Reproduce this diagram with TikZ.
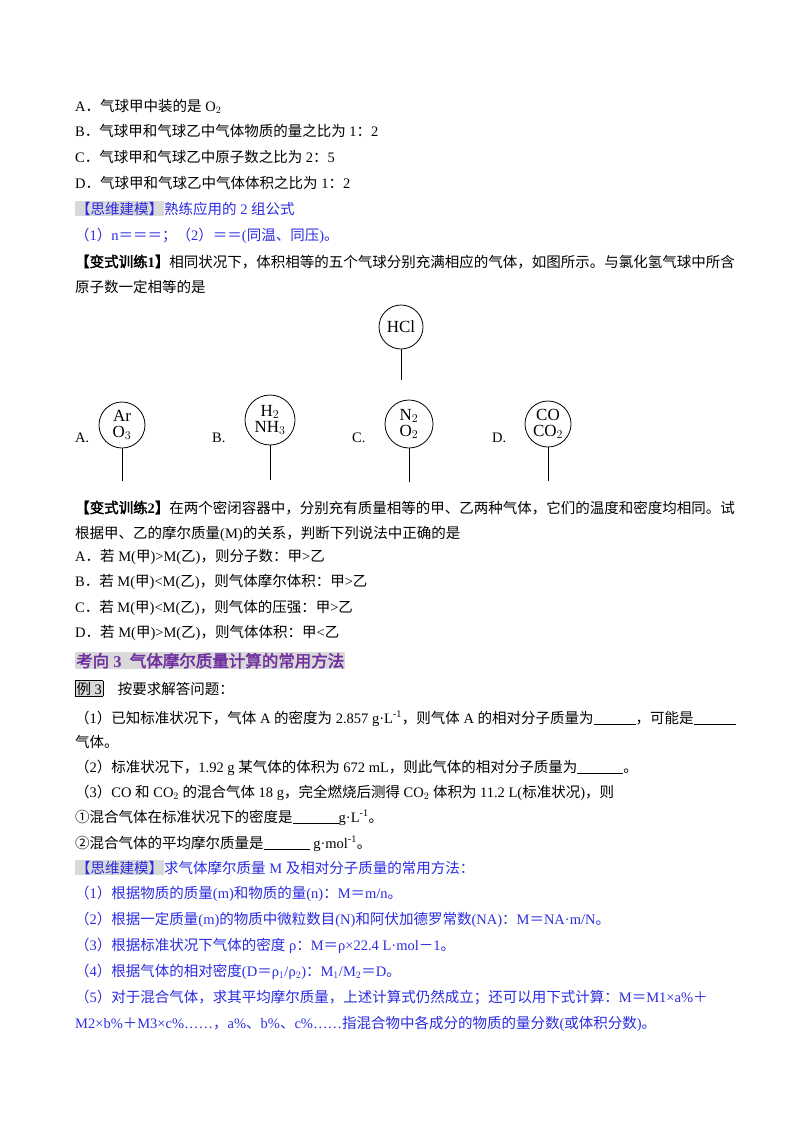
\documentclass[tikz,border=0pt]{standalone}
\usepackage{fontspec}
\setmainfont{Liberation Serif}
\newfontfamily\cj{Noto Sans CJK SC}[AutoFakeBold=2.5]
\XeTeXinterchartokenstate=1
\newXeTeXintercharclass\CJKc
\newcount\cc
\def\setcls#1#2{\cc=#1 \loop \XeTeXcharclass\cc=\CJKc \ifnum\cc<#2 \advance\cc 1 \repeat}
\setcls{"2460}{"24FF}
\setcls{"3000}{"303F}
\setcls{"4E00}{"9FFF}
\setcls{"FF00}{"FFEF}
\XeTeXinterchartoks 0 \CJKc = {\begingroup\cj}
\XeTeXinterchartoks 4095 \CJKc = {\begingroup\cj}
\XeTeXinterchartoks \CJKc 0 = {\endgroup}
\XeTeXinterchartoks \CJKc 4095 = {\endgroup}
\definecolor{bl}{HTML}{2B2BE0}
\definecolor{pu}{HTML}{7030A0}
\definecolor{gy}{HTML}{D9D9D9}
\newcommand{\gb}[1]{\begingroup\setlength{\fboxsep}{1pt}\colorbox{gy}{#1}\endgroup}
\newcommand{\blank}[1]{\underline{\hspace{#1}}}
\newcommand{\inv}{\textsuperscript{-1}}
\begin{document}
\begin{tikzpicture}[x=1pt,y=-1pt,
  t/.style={anchor=base west,inner sep=0pt,font=\fontsize{14.5}{16}\selectfont},
  b/.style={t,text=bl},
  ball/.style={circle,draw,line width=0.8pt,minimum size=#1,inner sep=0pt,align=center,font=\fontsize{17}{16}\selectfont},
  st/.style={line width=0.8pt}]
\path[use as bounding box] (0,0) rectangle (800,1132);
\node[t] (a1) at (75,111) {A．气球甲中装的是 O$_2$};
\node[t] (a2) at (75,136) {B．气球甲和气球乙中气体物质的量之比为 1：2};
\node[t] (a3) at (75,162) {C．气球甲和气球乙中原子数之比为 2：5};
\node[t] (a4) at (75,188) {D．气球甲和气球乙中气体体积之比为 1：2};
\node[b] (a5) at (75,214) {\gb{【思维建模】}熟练应用的 2 组公式};
\node[b] (a6) at (75,240) {（1）n＝＝＝；（2）＝＝(同温、同压)。};
\node[t] (a7) at (75,267) {\bfseries 【变式训练1】\mdseries 相同状况下，体积相等的五个气球分别充满相应的气体，如图所示。与氯化氢气球中所含};
\node[t] (a8) at (75,292) {原子数一定相等的是};
% balloons
\node[ball=44pt] (h) at (401,327) {HCl};
\coordinate (he) at (401,380);
\draw[st] (h) -- (he);
\node[t] (la) at (75,442) {A.};
\node[ball=46pt] (ba) at (122,425) {Ar\\O$_3$};
\coordinate (bae) at (122,481);
\draw[st] (ba) -- (bae);
\node[t] (lb) at (212,442) {B.};
\node[ball=50pt] (bb) at (270,420) {H$_2$\\NH$_3$};
\coordinate (bbe) at (270,480);
\draw[st] (bb) -- (bbe);
\node[t] (lc) at (352,442) {C.};
\node[ball=48pt] (bc) at (409,424) {N$_2$\\O$_2$};
\coordinate (bce) at (409,482);
\draw[st] (bc) -- (bce);
\node[t] (ld) at (492,442) {D.};
\node[ball=46pt] (bd) at (548,424) {CO\\CO$_2$};
\coordinate (bde) at (548,481);
\draw[st] (bd) -- (bde);
% lower
\node[t] (c1) at (75,513) {\bfseries 【变式训练2】\mdseries 在两个密闭容器中，分别充有质量相等的甲、乙两种气体，它们的温度和密度均相同。试};
\node[t] (c2) at (75,538) {根据甲、乙的摩尔质量(M)的关系，判断下列说法中正确的是};
\node[t] (c3) at (75,561) {A．若 M(甲)>M(乙)，则分子数：甲>乙};
\node[t] (c4) at (75,586) {B．若 M(甲)<M(乙)，则气体摩尔体积：甲>乙};
\node[t] (c5) at (75,612) {C．若 M(甲)<M(乙)，则气体的压强：甲>乙};
\node[t] (c6) at (75,637) {D．若 M(甲)>M(乙)，则气体体积：甲<乙};
\node[t,text=pu,font=\fontsize{16.5}{18}\selectfont] (c7) at (75,667) {\gb{\bfseries 考向 3 \ 气体摩尔质量计算的常用方法}};
\node[t] (c8) at (75,694) {\setlength{\fboxsep}{1pt}\fcolorbox{black}{gy}{例 3}\quad 按要求解答问题：};
\node[t] (c9) at (75,723) {（1）已知标准状况下，气体 A 的密度为 2.857 g·L\inv，则气体 A 的相对分子质量为\blank{42pt}，可能是\blank{42pt}};
\node[t] (c10) at (75,747) {气体。};
\node[t] (c11) at (75,772) {（2）标准状况下，1.92 g 某气体的体积为 672 mL，则此气体的相对分子质量为\blank{46pt}。};
\node[t] (c12) at (75,797) {（3）CO 和 CO$_2$ 的混合气体 18 g，完全燃烧后测得 CO$_2$ 体积为 11.2 L(标准状况)，则};
\node[t] (c13) at (75,822) {①混合气体在标准状况下的密度是\blank{46pt}g·L\inv。};
\node[t] (c14) at (75,848) {②混合气体的平均摩尔质量是\blank{46pt} g·mol\inv。};
\node[b] (d1) at (75,873) {\gb{【思维建模】}求气体摩尔质量 M 及相对分子质量的常用方法：};
\node[b] (d2) at (75,898) {（1）根据物质的质量(m)和物质的量(n)：M＝m/n。};
\node[b] (d3) at (75,924) {（2）根据一定质量(m)的物质中微粒数目(N)和阿伏加德罗常数(NA)：M＝NA·m/N。};
\node[b] (d4) at (75,950) {（3）根据标准状况下气体的密度 ρ：M＝ρ×22.4 L·mol－1。};
\node[b] (d5) at (75,976) {（4）根据气体的相对密度(D＝ρ$_1$/ρ$_2$)：M$_1$/M$_2$＝D。};
\node[b] (d6) at (75,1002) {（5）对于混合气体，求其平均摩尔质量，上述计算式仍然成立；还可以用下式计算：M＝M1×a\%＋};
\node[b] (d7) at (75,1028) {M2×b\%＋M3×c\%……，a\%、b\%、c\%……指混合物中各成分的物质的量分数(或体积分数)。};
\end{tikzpicture}
\end{document}
